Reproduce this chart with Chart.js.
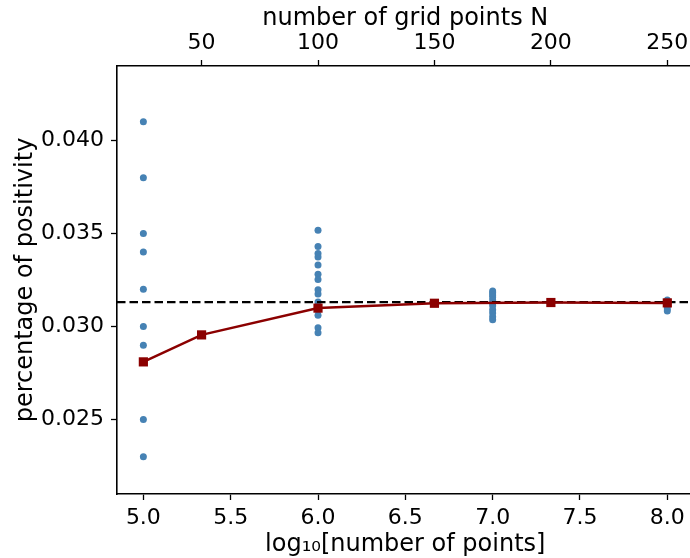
<!DOCTYPE html>
<html>
<head>
<meta charset="utf-8">
<script src="https://cdn.jsdelivr.net/npm/chart.js@4/dist/chart.umd.min.js"></script>
<style>
html,body{margin:0;padding:0;background:#fff;overflow:hidden;}
#wrap{width:700px;height:558px;}
</style>
</head>
<body>
<div id="wrap"><canvas id="c" width="700" height="558"></canvas></div>
<script>
// ---- data ----
const logPoints = [5.0, 6.0, 7.0, 8.0];
const samplesAt5 = [0.0410, 0.0380, 0.0350, 0.0340, 0.0320, 0.0300, 0.0290, 0.0250, 0.0230];
const samplesAt6 = [0.03518, 0.03430, 0.03392, 0.03374, 0.03331, 0.03281, 0.03253, 0.03197, 0.03175, 0.03132, 0.03090, 0.03060, 0.02993, 0.02966];
const samplesAt7 = [0.03191, 0.03181, 0.03170, 0.03159, 0.03143, 0.03127, 0.03111, 0.03090, 0.03073, 0.03052, 0.03036];
const samplesAt8 = [0.03143, 0.03132, 0.03122, 0.03111, 0.03095, 0.03084];
const gridN = [25, 50, 100, 150, 200, 250];
const gridPositivity = [0.02810, 0.02955, 0.03099, 0.03125, 0.03129, 0.03127];
const referenceValue = 0.03131;
const xTickLabels = [5.0, 5.5, 6.0, 6.5, 7.0, 7.5, 8.0];
const topTickLabels = [50, 100, 150, 200, 250];
const yTickLabels = [0.025, 0.030, 0.035, 0.040];

const allSamples = [samplesAt5, samplesAt6, samplesAt7, samplesAt8];
const scatterData = [];
logPoints.forEach((lx, i) => allSamples[i].forEach(v => scatterData.push({x: lx, y: v})));
const lineData = gridN.map((n, i) => ({x: n, y: gridPositivity[i]}));

const FONT = "'DejaVu Sans', sans-serif";

const refLine = {
  id: 'refLine',
  afterDatasetDraw(chart, args) {
    if (args.index !== 1) return;
    const ctx = chart.ctx, a = chart.chartArea;
    const y = chart.scales.y.getPixelForValue(referenceValue);
    ctx.save();
    ctx.beginPath();
    ctx.rect(a.left, a.top, a.right - a.left, a.bottom - a.top);
    ctx.clip();
    ctx.strokeStyle = '#000';
    ctx.lineWidth = 2.2;
    ctx.setLineDash([8.5, 4]);
    ctx.beginPath();
    ctx.moveTo(a.left, y);
    ctx.lineTo(a.right, y);
    ctx.stroke();
    ctx.restore();
  }
};

const setTicks = arr => (scale) => { scale.ticks = arr.map(v => ({value: v})); };

new Chart(document.getElementById('c'), {
  data: {
    datasets: [
      {
        type: 'line',
        data: lineData,
        xAxisID: 'x2',
        yAxisID: 'y',
        borderColor: '#8b0000',
        backgroundColor: '#8b0000',
        borderWidth: 2.5,
        pointStyle: 'rect',
        pointRadius: 6.5,
        pointBorderWidth: 0,
        tension: 0,
        clip: false
      },
      {
        type: 'scatter',
        data: scatterData,
        xAxisID: 'x',
        yAxisID: 'y',
        backgroundColor: '#4682b4',
        borderWidth: 0,
        pointRadius: 3.5
      }
    ]
  },
  plugins: [refLine],
  options: {
    responsive: false,
    devicePixelRatio: 1,
    animation: false,
    layout: {padding: {left: 0, right: 5, top: 0, bottom: 0}},
    plugins: {legend: {display: false}, tooltip: {enabled: false}},
    scales: {
      x: {
        type: 'linear', position: 'bottom',
        min: 4.849, max: 8.15,
        afterBuildTicks: setTicks(xTickLabels),
        afterFit: s => { s.height = 64; },
        border: {display: true, color: '#000', width: 1.6},
        grid: {display: true, drawOnChartArea: false, drawTicks: true, tickLength: 6, tickColor: '#000', tickWidth: 1.3},
        ticks: {color: '#000', font: {family: FONT, size: 22}, padding: 5, maxRotation: 0, autoSkip: false, callback: v => v.toFixed(1)},
        title: {display: true, text: 'log\u2081\u2080[number of points]', color: '#000', font: {family: FONT, size: 24}, padding: {top: 0, bottom: -1}}
      },
      x2: {
        type: 'linear', position: 'top',
        min: 13.68, max: 261.25,
        afterBuildTicks: setTicks(topTickLabels),
        afterFit: s => { s.height = 66; },
        border: {display: true, color: '#000', width: 1.6},
        grid: {display: true, drawOnChartArea: false, drawTicks: true, tickLength: 6, tickColor: '#000', tickWidth: 1.3},
        ticks: {color: '#000', font: {family: FONT, size: 22}, padding: 4, maxRotation: 0, autoSkip: false, callback: v => String(v)},
        title: {display: true, text: 'number of grid points N', color: '#000', font: {family: FONT, size: 24}, padding: {top: 4, bottom: 0}}
      },
      y: {
        type: 'linear', position: 'left',
        min: 0.021, max: 0.044,
        afterBuildTicks: setTicks(yTickLabels),
        afterFit: s => { s.width = 117; },
        border: {display: true, color: '#000', width: 1.6},
        grid: {display: true, drawOnChartArea: false, drawTicks: true, tickLength: 6, tickColor: '#000', tickWidth: 1.3},
        ticks: {color: '#000', font: {family: FONT, size: 22}, padding: 7, autoSkip: false, callback: v => v.toFixed(3)},
        title: {display: true, text: 'percentage of positivity', color: '#000', font: {family: FONT, size: 24}, padding: {top: 11, bottom: 0}}
      }
    }
  }
});
</script>
</body>
</html>
